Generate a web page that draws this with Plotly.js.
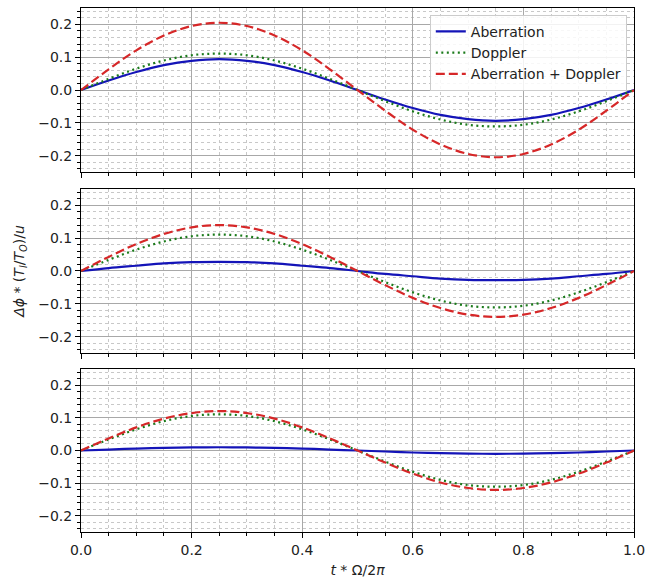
<!DOCTYPE html>
<html>
<head>
<meta charset="utf-8">
<script src="https://cdn.plot.ly/plotly-3.0.1.min.js"></script>
<style>html,body{margin:0;padding:0;background:#fff;}#chart{width:646px;height:579px;}</style>
</head>
<body>
<div id="chart"></div>
<script>
// time axis t*Omega/2pi
const t = [0, 0.05, 0.10, 0.15, 0.20, 0.25, 0.30, 0.35, 0.40, 0.45, 0.50, 0.55, 0.60, 0.65, 0.70, 0.75, 0.80, 0.85, 0.90, 0.95, 1.00];

// Panel 1 (top)
const aberration1 = [0, 0.029, 0.055, 0.076, 0.089, 0.094, 0.089, 0.076, 0.055, 0.029, 0, -0.029, -0.055, -0.076, -0.089, -0.094, -0.089, -0.076, -0.055, -0.029, 0];
const doppler1    = [0, 0.034, 0.065, 0.090, 0.106, 0.111, 0.106, 0.090, 0.065, 0.034, 0, -0.034, -0.065, -0.090, -0.106, -0.111, -0.106, -0.090, -0.065, -0.034, 0];
const both1       = [0, 0.063, 0.121, 0.166, 0.195, 0.205, 0.195, 0.166, 0.121, 0.063, 0, -0.063, -0.121, -0.166, -0.195, -0.205, -0.195, -0.166, -0.121, -0.063, 0];

// Panel 2 (middle)
const aberration2 = [0, 0.009, 0.016, 0.023, 0.027, 0.028, 0.027, 0.023, 0.016, 0.009, 0, -0.009, -0.016, -0.023, -0.027, -0.028, -0.027, -0.023, -0.016, -0.009, 0];
const doppler2    = [0, 0.034, 0.065, 0.090, 0.106, 0.111, 0.106, 0.090, 0.065, 0.034, 0, -0.034, -0.065, -0.090, -0.106, -0.111, -0.106, -0.090, -0.065, -0.034, 0];
const both2       = [0, 0.043, 0.082, 0.113, 0.133, 0.140, 0.133, 0.113, 0.082, 0.043, 0, -0.043, -0.082, -0.113, -0.133, -0.140, -0.133, -0.113, -0.082, -0.043, 0];

// Panel 3 (bottom)
const aberration3 = [0, 0.003, 0.006, 0.008, 0.0095, 0.010, 0.0095, 0.008, 0.006, 0.003, 0, -0.003, -0.006, -0.008, -0.0095, -0.010, -0.0095, -0.008, -0.006, -0.003, 0];
const doppler3    = [0, 0.034, 0.065, 0.090, 0.106, 0.111, 0.106, 0.090, 0.065, 0.034, 0, -0.034, -0.065, -0.090, -0.106, -0.111, -0.106, -0.090, -0.065, -0.034, 0];
const both3       = [0, 0.037, 0.071, 0.098, 0.115, 0.121, 0.115, 0.098, 0.071, 0.037, 0, -0.037, -0.071, -0.098, -0.115, -0.121, -0.115, -0.098, -0.071, -0.037, 0];

const seriesNames = ['Aberration', 'Doppler', 'Aberration + Doppler'];
const yTickVals = [-0.2, -0.1, 0.0, 0.1, 0.2];
const yTickText = ['\u22120.2', '\u22120.1', '0.0', '0.1', '0.2'];
const xTickVals = [0, 0.2, 0.4, 0.6, 0.8, 1.0];
const xTickText = ['0.0', '0.2', '0.4', '0.6', '0.8', '1.0'];

const styles = [
  {color: '#1414b8', width: 2.2, dash: 'solid'},
  {color: '#1a7a1a', width: 2.2, dash: '2px,3.5px'},
  {color: '#d62728', width: 2.2, dash: '9px,4px'}
];

const panels = [
  [aberration1, doppler1, both1],
  [aberration2, doppler2, both2],
  [aberration3, doppler3, both3]
];

const traces = [];
panels.forEach((p, i) => {
  p.forEach((ys, j) => {
    traces.push({
      x: t, y: ys, type: 'scatter', mode: 'lines',
      name: seriesNames[j],
      line: Object.assign({shape: 'spline'}, styles[j]),
      xaxis: i === 0 ? 'x' : 'x' + (i + 1),
      yaxis: i === 0 ? 'y' : 'y' + (i + 1),
      showlegend: i === 0
    });
  });
});

function xax(anchor, showLabels) {
  return {
    anchor: anchor, range: [0, 1], domain: [0, 1],
    tickvals: xTickVals, ticktext: xTickText, showticklabels: showLabels,
    ticks: 'outside', ticklen: 5, tickcolor: '#000',
    showline: true, mirror: true, linecolor: '#000', linewidth: 1,
    showgrid: true, gridcolor: '#a8a8a8', gridwidth: 1, zeroline: false,
    minor: {dtick: 0.05, tick0: 0, ticks: 'outside', ticklen: 3, tickcolor: '#000', showgrid: true, gridcolor: '#c8c8c8', griddash: 'dot', gridwidth: 1},
    tickfont: {size: 14, color: '#222'}
  };
}
function yax(anchor, domain) {
  return {
    anchor: anchor, range: [-0.25, 0.25], domain: domain,
    tickvals: yTickVals, ticktext: yTickText,
    ticks: 'outside', ticklen: 5, tickcolor: '#000',
    showline: true, mirror: true, linecolor: '#000', linewidth: 1,
    showgrid: true, gridcolor: '#a8a8a8', gridwidth: 1, zeroline: false,
    minor: {dtick: 0.02, tick0: 0, ticks: 'outside', ticklen: 3, tickcolor: '#000', showgrid: true, gridcolor: '#c8c8c8', griddash: 'dot', gridwidth: 1},
    tickfont: {size: 14, color: '#222'}
  };
}

const layout = {
  width: 646, height: 579,
  margin: {l: 81, r: 12, t: 8, b: 47},
  paper_bgcolor: '#fff', plot_bgcolor: '#fff',
  font: {family: 'DejaVu Sans, sans-serif', size: 14, color: '#222'},
  xaxis: xax('y', false),
  xaxis2: xax('y2', false),
  xaxis3: Object.assign(xax('y3', true), {title: {text: '<i>t</i> * \u03A9/2<i>\u03C0</i>', font: {size: 14, color: '#222'}, standoff: 8}}),
  yaxis: yax('x', [0.687, 1]),
  yaxis2: Object.assign(yax('x2', [0.3416, 0.6546]), {title: {text: '<i>\u0394\u03D5</i> * (<i>T<sub>I</sub></i>/<i>T<sub>O</sub></i>)/<i>u</i>', font: {size: 14, color: '#222'}, standoff: 10}}),
  yaxis3: yax('x3', [0, 0.311]),
  legend: {
    x: 0.987, y: 0.987, xanchor: 'right', yanchor: 'top',
    bgcolor: 'rgba(255,255,255,0.85)', bordercolor: '#cccccc', borderwidth: 1,
    font: {size: 14, color: '#222'}, tracegroupgap: 0
  },
  showlegend: true
};

Plotly.newPlot('chart', traces, layout, {displayModeBar: false, staticPlot: true});
</script>
</body>
</html>
